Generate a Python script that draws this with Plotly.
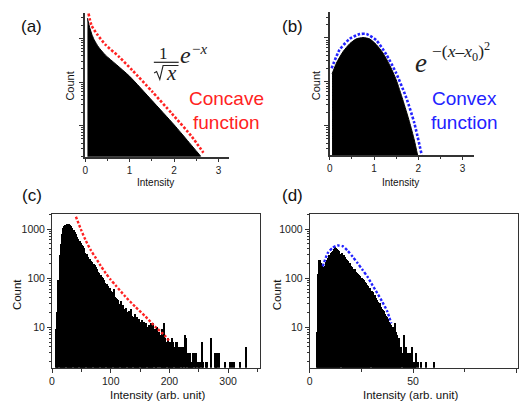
import plotly.graph_objects as go

W, H = 525, 402


def P(x, y):
    """pixel position -> paper coordinates"""
    return x / W, 1 - y / H


RED = "#ff2222"
BLUE = "#2222ff"
FONT = "Liberation Sans"
SERIF = "Liberation Serif"

# ---------------- data ----------------
# (a) concave model: filled profile and dotted fit
a_x = [0.05, 0.1, 0.15, 0.2, 0.3, 0.45, 0.7, 1.0, 1.5, 2.0, 2.3, 2.6]
a_y = [2884, 1778, 1230, 933, 631, 417, 251, 135, 38, 10.5, 4.6, 2.0]
a_fit_x = [0.074, 0.14, 0.276, 0.46, 0.76, 1.06, 1.51, 1.95, 2.40, 2.66]
a_fit_y = [3715, 1995, 1202, 708, 380, 186, 60, 19, 5.6, 2.4]

# (b) convex model: filled profile and dotted fit
b_x = [0.05, 0.15, 0.3, 0.45, 0.6, 0.75, 0.9, 1.05, 1.2, 1.35, 1.5, 1.65, 1.8, 1.91, 1.99]
b_y = [151, 269, 490, 741, 955, 1023, 955, 708, 457, 245, 112, 39, 12.3, 4.7, 2.0]
b_fit_x = [0.04, 0.22, 0.45, 0.68, 0.83, 1.05, 1.28, 1.5, 1.73, 1.91, 2.08]
b_fit_y = [204, 537, 955, 1230, 1230, 891, 417, 158, 43, 11.5, 2.1]

# (c) histogram, bins of width 2 starting at 7
c_bin_start = 7
c_bin_width = 2
c_counts = [
    9, 20, 90, 300, 500, 800, 1050, 1150, 1220, 1260,
    1270, 1260, 1230, 1150, 1050, 950, 860, 790, 700, 620,
    580, 520, 480, 450, 410, 330, 310, 275, 250, 245,
    222, 210, 190, 182, 165, 150, 132, 128, 115, 105,
    100, 92, 78, 75, 68, 64, 62, 55, 52, 60,
    42, 40, 38, 36, 30, 34, 28, 29, 24, 22,
    25, 20, 21, 18, 24, 17, 16, 19, 15, 16,
    14, 15, 13, 14, 12, 13, 11, 12, 10, 11,
    10, 12, 9, 12, 9, 8, 10, 1, 8, 7,
    9, 6, 12, 6, 5, 6, 5, 5, 5, 6,
    5, 4, 5, 5, 4, 4, 4, 4, 4, 0,
    7, 6, 3, 3, 3, 2, 2, 3, 3, 3,
    0, 2, 2, 2, 5, 2, 0, 0, 2, 2,
    0, 0, 6, 0, 0, 3, 3, 3, 0, 3,
    0, 0, 0, 0, 2, 0, 0, 0, 2, 0,
    2, 0, 2, 0, 0, 0, 0, 2, 0, 0,
    0, 0, 4, 0, 0,
]
c_fit_x = [40.7, 50, 57.7, 66, 74.6, 83, 91.5, 100, 108.5, 125, 142, 159, 176, 193, 200]
c_fit_y = [1780, 933, 575, 372, 257, 178, 126, 93, 71, 42, 26, 16.6, 10.2, 6.6, 5.2]

# (d) histogram, bins of width 0.5 starting at 3.25
d_bin_start = 3.25
d_bin_width = 0.5
d_counts = [
    8, 120, 235, 230, 200, 185, 160, 165, 175, 215,
    235, 260, 290, 280, 320, 340, 355, 385, 430, 420,
    395, 380, 360, 310, 320, 300, 290, 265, 250, 235,
    220, 205, 200, 175, 165, 155, 148, 150, 135, 128,
    124, 115, 110, 95, 100, 98, 90, 85, 78, 74,
    68, 64, 62, 54, 52, 44, 45, 40, 36, 33,
    30, 31, 26, 24, 22, 21, 19, 17, 16, 15,
    13, 12, 11, 10, 9, 10, 12, 8, 7, 6,
    6, 4, 4, 3, 7, 4, 4, 3, 3, 2,
    3, 2, 4, 2, 2, 2, 3, 0, 2, 0,
    0, 2, 0, 0, 0, 0, 2, 0, 0, 0,
    0, 0, 0, 2, 0,
]
d_fit_x = [6.3, 8.7, 11.1, 13.5, 15.9, 18.3, 20.7, 23.1, 25.5, 27.9, 30.3, 32.7, 35.1, 37.5, 39.4]
d_fit_y = [174, 324, 417, 462, 447, 363, 275, 204, 148, 107, 72, 49, 33, 21, 12]

c_x = [c_bin_start + i * c_bin_width for i in range(len(c_counts))]
d_x = [d_bin_start + i * d_bin_width for i in range(len(d_counts))]
c_plot = [v if v > 0 else None for v in c_counts]
d_plot = [v if v > 0 else None for v in d_counts]

# ---------------- figure ----------------
fig = go.Figure()
dot = "2.6px,1.8px"

fig.add_trace(go.Scatter(x=a_x, y=a_y, mode="lines", fill="tozeroy", fillcolor="black",
                         line=dict(color="black", width=1, shape="spline", smoothing=0.6),
                         xaxis="x", yaxis="y", hoverinfo="skip"))
fig.add_trace(go.Scatter(x=a_fit_x, y=a_fit_y, mode="lines",
                         line=dict(color=RED, width=2.6, dash=dot, shape="spline", smoothing=0.6),
                         xaxis="x", yaxis="y", hoverinfo="skip"))
fig.add_trace(go.Scatter(x=b_x, y=b_y, mode="lines", fill="tozeroy", fillcolor="black",
                         line=dict(color="black", width=1, shape="spline", smoothing=0.6),
                         xaxis="x2", yaxis="y2", hoverinfo="skip"))
fig.add_trace(go.Scatter(x=b_fit_x, y=b_fit_y, mode="lines",
                         line=dict(color=BLUE, width=2.6, dash=dot, shape="spline", smoothing=0.6),
                         xaxis="x2", yaxis="y2", hoverinfo="skip"))
fig.add_trace(go.Bar(x=c_x, y=c_plot, width=c_bin_width,
                     marker=dict(color="black", line=dict(width=0)),
                     xaxis="x3", yaxis="y3", hoverinfo="skip"))
fig.add_trace(go.Scatter(x=c_fit_x, y=c_fit_y, mode="lines",
                         line=dict(color=RED, width=2.4, dash=dot, shape="spline", smoothing=0.6),
                         xaxis="x3", yaxis="y3", hoverinfo="skip"))
fig.add_trace(go.Bar(x=d_x, y=d_plot, width=d_bin_width,
                     marker=dict(color="black", line=dict(width=0)),
                     xaxis="x4", yaxis="y4", hoverinfo="skip"))
fig.add_trace(go.Scatter(x=d_fit_x, y=d_fit_y, mode="lines",
                         line=dict(color=BLUE, width=2.4, dash=dot, shape="spline", smoothing=0.6),
                         xaxis="x4", yaxis="y4", hoverinfo="skip"))

AX = "#333333"
common = dict(showgrid=False, zeroline=False, showline=True, linecolor=AX,
              ticks="outside", tickcolor=AX, tickwidth=1,
              tickfont=dict(family=FONT, size=10, color="#222"))


def xdom(l, r):
    return [l / W, r / W]


def ydom(t, b):
    return [1 - b / H, 1 - t / H]


layout_axes = dict(
    xaxis=dict(domain=xdom(82.7, 227), range=[0, 3.23], anchor="y", dtick=1, tick0=0,
               linewidth=1.6, ticklen=3, minor=dict(dtick=0.5, ticks="outside", ticklen=2, tickcolor=AX),
               **common),
    yaxis=dict(domain=ydom(13, 156.7), type="log", range=[0.29, 3.58], anchor="x", dtick=1,
               linewidth=1.6, ticklen=4, showticklabels=False,
               minor=dict(dtick="D1", ticks="outside", ticklen=2, tickcolor=AX), **common),
    xaxis2=dict(domain=xdom(328.7, 473.7), range=[0, 3.26], anchor="y2", dtick=1, tick0=0,
                linewidth=1.6, ticklen=3, minor=dict(dtick=0.5, ticks="outside", ticklen=2, tickcolor=AX),
                **common),
    yaxis2=dict(domain=ydom(11.7, 155), type="log", range=[0.33, 3.6], anchor="x2", dtick=1,
                linewidth=1.6, ticklen=4, showticklabels=False,
                minor=dict(dtick="D1", ticks="outside", ticklen=2, tickcolor=AX), **common),
    xaxis3=dict(domain=xdom(49.3, 258.3), range=[0, 354], anchor="y3", dtick=100, tick0=0,
                linewidth=1, ticklen=4, mirror=True,
                minor=dict(dtick=50, ticks="outside", ticklen=3, tickcolor=AX), **common),
    yaxis3=dict(domain=ydom(214, 367.7), type="log", range=[0.176, 3.306], anchor="x3", dtick=1,
                linewidth=1, ticklen=4, mirror=True,
                minor=dict(dtick="D1", ticks="outside", ticklen=2, tickcolor=AX), **common),
    xaxis4=dict(domain=xdom(308.5, 517.7), range=[0, 100.6], anchor="y4", dtick=50, tick0=0,
                linewidth=1, ticklen=4, mirror=True,
                minor=dict(dtick=25, ticks="outside", ticklen=3, tickcolor=AX), **common),
    yaxis4=dict(domain=ydom(214, 367.7), type="log", range=[0.176, 3.306], anchor="x4", dtick=1,
                linewidth=1, ticklen=4, mirror=True,
                minor=dict(dtick="D1", ticks="outside", ticklen=2, tickcolor=AX), **common),
)
for k in ("xaxis3", "xaxis4", "yaxis3", "yaxis4"):
    layout_axes[k]["tickfont"] = dict(family=FONT, size=10.5, color="#222")

annotations = []


def text(x, y, s, size, color="#111", family=FONT, angle=0, xanchor="center"):
    xp, yp = P(x, y)
    annotations.append(dict(x=xp, y=yp, xref="paper", yref="paper", text=s, showarrow=False,
                            xanchor=xanchor, yanchor="middle", textangle=angle,
                            font=dict(family=family, size=size, color=color)))


# panel letters
text(29, 26, "(a)", 17)
text(291, 26, "(b)", 17)
text(29, 195.5, "(c)", 17)
text(291, 195.5, "(d)", 17)

# axis titles
text(67, 86, "Count", 11, angle=-90)
text(153, 182, "Intensity", 10)
text(315, 86, "Count", 11, angle=-90)
text(399.5, 182, "Intensity", 10)
text(14.2, 295, "Count", 11.5, angle=-90)
text(155.3, 394.5, "Intensity (arb. unit)", 11.5)
text(275.8, 295, "Count", 11.5, angle=-90)
text(409.5, 394.5, "Intensity (arb. unit)", 11.5)

# descriptive labels
text(225, 99, "Concave", 19, color=RED)
text(225, 122, "function", 19, color=RED)
text(464, 99, "Convex", 19, color=BLUE)
text(464.5, 122, "function", 19, color=BLUE)

# formula (a): 1/sqrt(x) e^{-x}
text(161.7, 53.5, "1", 17, color="#222", family=SERIF)
text(169.2, 73, "<i>x</i>", 21, color="#222", family=SERIF)
text(184, 55, "<i>e</i>", 24, color="#222", family=SERIF)
text(198, 49.5, "\u2212<i>x</i>", 15, color="#222", family=SERIF)

# formula (b): e^{-(x-x0)^2}
text(420.5, 63, "<i>e</i>", 27, color="#222", family=SERIF)
text(429, 51, "\u2212(<i>x</i>\u2013<i>x</i><sub>0</sub>)<sup>2</sup>", 17.5, color="#222",
     family=SERIF, xanchor="left")

shapes = []
x0, y0 = P(151.7, 62.3)
x1, y1 = P(176.7, 62.3)
shapes.append(dict(type="line", xref="paper", yref="paper", x0=x0, y0=y0, x1=x1, y1=y1,
                   line=dict(color="#222", width=1.2)))
pts = [P(152, 73), P(154.5, 71.5), P(157.7, 79.5), P(161, 65.5), P(176.5, 65.5)]
path = "M " + " L ".join(f"{a:.5f},{b:.5f}" for a, b in pts)
shapes.append(dict(type="path", xref="paper", yref="paper", path=path,
                   line=dict(color="#222", width=1.1)))

fig.update_layout(
    width=W, height=H, margin=dict(l=0, r=0, t=0, b=0),
    paper_bgcolor="white", plot_bgcolor="white",
    showlegend=False, bargap=0,
    font=dict(family=FONT, color="#222"),
    annotations=annotations, shapes=shapes,
    **layout_axes,
)

fig.write_html("out.html", config={"displayModeBar": False},
               post_script="document.body.style.margin='0px';")
